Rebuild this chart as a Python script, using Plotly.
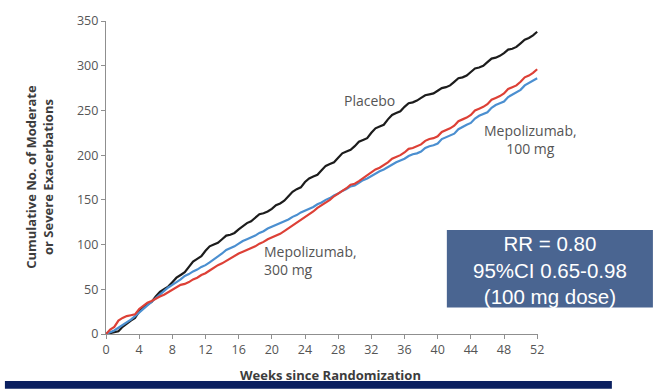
import plotly.graph_objects as go

# Study week (half-week resolution) at which each cumulative count is recorded
weeks = [i * 0.5 for i in range(105)]

# Cumulative number of moderate or severe exacerbations per arm
placebo = [0, 1, 2, 3, 8, 12, 15, 18, 25, 30, 33, 36, 42, 47, 50, 53,
           58, 63, 66, 69, 75, 81, 84, 87, 93, 98, 100, 102, 106, 110, 111, 113,
           117, 121, 124, 126, 130, 134, 135, 137, 140, 144, 146, 149, 154, 159, 162, 164,
           170, 174, 176, 178, 183, 188, 190, 192, 197, 202, 204, 206, 210, 215, 217, 219,
           225, 230, 232, 234, 240, 245, 247, 249, 254, 258, 259, 261, 264, 267, 268, 269,
           272, 275, 276, 278, 282, 286, 287, 289, 293, 297, 298, 300, 304, 308, 309, 311,
           314, 318, 319, 321, 325, 329, 331, 334, 338]
mepo_100 = [0, 2, 4, 7, 10, 13, 16, 20, 24, 29, 32, 36, 40, 45, 48, 52,
            55, 58, 61, 65, 67, 70, 72, 75, 77, 80, 83, 87, 90, 94, 96, 98,
            101, 104, 106, 108, 110, 113, 115, 118, 120, 122, 124, 126, 128, 131, 133, 136,
            138, 140, 142, 145, 147, 150, 152, 155, 157, 160, 162, 165, 166, 169, 172, 174,
            177, 180, 182, 184, 187, 190, 192, 194, 196, 199, 201, 202, 204, 208, 210, 211,
            213, 218, 220, 222, 224, 229, 232, 234, 236, 241, 244, 246, 248, 253, 256, 258,
            260, 265, 268, 270, 273, 278, 281, 283, 286]
mepo_300 = [0, 5, 8, 15, 18, 20, 21, 22, 28, 32, 35, 37, 40, 42, 44, 47,
            50, 53, 55, 56, 58, 61, 63, 66, 68, 71, 74, 77, 79, 82, 84, 87,
            90, 92, 94, 96, 98, 101, 103, 106, 108, 110, 112, 115, 118, 121, 124, 127,
            130, 134, 137, 141, 144, 147, 150, 154, 157, 160, 163, 167, 168, 171, 174, 177,
            180, 184, 186, 189, 192, 196, 198, 200, 203, 207, 208, 210, 212, 216, 218, 219,
            221, 226, 228, 230, 233, 238, 240, 242, 245, 250, 252, 254, 257, 262, 264, 266,
            269, 274, 276, 278, 282, 287, 289, 292, 296]

x_ticks = list(range(0, 53, 4))
y_ticks = list(range(0, 351, 50))

axis_grey = "#8f8f8f"
label_grey = "#555555"
font_family = "Open Sans, Liberation Sans, sans-serif"

fig = go.Figure()
for name, values, colour in [
    ("Placebo", placebo, "#1c1c1c"),
    ("Mepolizumab, 100 mg", mepo_100, "#4b8fd0"),
    ("Mepolizumab, 300 mg", mepo_300, "#dd4036"),
]:
    fig.add_trace(go.Scatter(x=weeks, y=values, mode="lines", name=name,
                             line=dict(color=colour, width=2.2),
                             showlegend=False))

axis_common = dict(showgrid=False, zeroline=False, showline=True, linecolor=axis_grey,
                   linewidth=1.2, ticks="outside", ticklen=4, tickcolor=axis_grey,
                   tickwidth=1.2,
                   tickfont=dict(family=font_family, size=12.5, color=label_grey))

fig.update_xaxes(range=[0, 52.1], tickvals=x_ticks, **axis_common)
fig.update_yaxes(range=[0, 350], tickvals=y_ticks, **axis_common)

curve_label = dict(family=font_family, size=14, color=label_grey)
fig.add_annotation(x=31.8, y=261, text="Placebo", showarrow=False, font=curve_label)
fig.add_annotation(x=51.2, y=217, text="Mepolizumab,<br>100 mg", showarrow=False,
                   font=curve_label, align="center")
fig.add_annotation(x=18.8, y=82, text="Mepolizumab,<br>300 mg", showarrow=False,
                   font=curve_label, align="left", xanchor="left")

# Axis titles
fig.add_annotation(xref="paper", yref="paper", x=-0.153, y=0.502,
                   xanchor="center", yanchor="middle",
                   text="<b>Cumulative No. of Moderate<br>or Severe Exacerbations</b>",
                   textangle=-90, showarrow=False, align="center",
                   font=dict(family=font_family, size=13, color="#3c3c3c"))
fig.add_annotation(xref="paper", yref="paper", x=0.52, y=-0.132,
                   xanchor="center", yanchor="middle",
                   text="<b>Weeks since Randomization</b>", showarrow=False,
                   font=dict(family=font_family, size=13, color="#3c3c3c"))

# Rate-ratio summary box
fig.add_shape(type="rect", xref="paper", yref="paper", x0=0.789, x1=1.266,
              y0=0.0846, y1=0.332, fillcolor="#4a6591", line=dict(width=0), layer="above")
fig.add_annotation(xref="paper", yref="paper", x=1.028, y=0.205,
                   xanchor="center", yanchor="middle",
                   text="RR = 0.80<br>95%CI 0.65-0.98<br>(100 mg dose)",
                   showarrow=False, align="center",
                   font=dict(family="Liberation Sans, Arial, sans-serif", size=20.5,
                             color="white"))

# Navy rule along the bottom edge
fig.add_shape(type="rect", xref="paper", yref="paper", x0=-0.234, x1=1.171,
              y0=-0.150, y1=-0.175, fillcolor="#0b2060", line=dict(width=0), layer="above")

fig.update_layout(width=654, height=389, margin=dict(l=106, r=116, t=15, b=55),
                  plot_bgcolor="white", paper_bgcolor="white")

fig.write_html("out.html")
